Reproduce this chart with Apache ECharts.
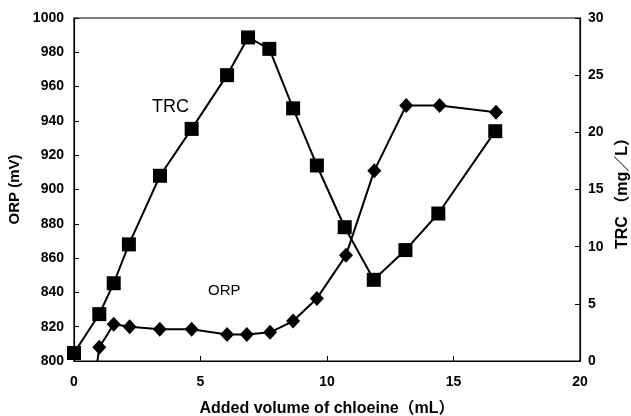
<!DOCTYPE html>
<html>
<head>
<meta charset="utf-8">
<script src="https://cdn.jsdelivr.net/npm/echarts@6/dist/echarts.min.js"></script>
<style>
html,body{margin:0;padding:0;background:#fff;}
#chart{width:631px;height:416px;}
</style>
</head>
<body>
<div id="chart"></div>
<script>
// Data
var trcX = [0, 1.0, 1.57, 2.17, 3.4, 4.65, 6.05, 6.88, 7.72, 8.66, 9.6, 10.7, 11.85, 13.1, 14.4, 16.65];
var trcValues = [0.7, 4.1, 6.8, 10.2, 16.2, 20.3, 25.0, 28.3, 27.3, 22.1, 17.1, 11.7, 7.1, 9.7, 12.9, 20.1];
var orpX = [0, 1.0, 1.57, 2.2, 3.39, 4.65, 6.05, 6.83, 7.75, 8.66, 9.6, 10.75, 11.87, 13.13, 14.45, 16.68];
var orpValues = [700, 808, 821.4, 820, 818.5, 818.5, 815.5, 815.5, 816.7, 823.3, 836.5, 861.6, 911, 949, 949, 945];
var xTicks = [0, 5, 10, 15, 20];
var orpTicks = [800, 820, 840, 860, 880, 900, 920, 940, 960, 980, 1000];
var trcTicks = [0, 5, 10, 15, 20, 25, 30];

var FONT = '"Liberation Sans", Arial, "Noto Sans CJK JP", sans-serif';

function pairs(xs, ys) {
  return xs.map(function (x, i) { return [x, ys[i]]; });
}

var chart = echarts.init(document.getElementById('chart'), null, {renderer: 'canvas'});
var axisLineStyle = {color: '#000', width: 1.2};
var lbl = {fontSize: 14, fontWeight: 'bold', color: '#000', fontFamily: FONT};
chart.setOption({
  animation: false,
  backgroundColor: '#fff',
  textStyle: {fontFamily: FONT, color: '#000'},
  grid: {left: 74, right: 51, top: 18, bottom: 55, show: true, borderColor: '#000', borderWidth: 1.2, backgroundColor: 'transparent', containLabel: false, outerBoundsMode: 'none'},
  xAxis: {
    type: 'value', min: xTicks[0], max: xTicks[xTicks.length - 1], interval: 5,
    name: 'Added volume of chloeine（mL）', nameLocation: 'middle', nameGap: 40,
    nameTextStyle: {fontSize: 16, fontWeight: 'bold', color: '#000', fontFamily: FONT},
    axisLine: {lineStyle: axisLineStyle},
    axisTick: {inside: true, length: 5, lineStyle: {color: '#000'}},
    axisLabel: Object.assign({margin: 14, formatter: function (v) { return String(v); }}, lbl),
    splitLine: {show: false}
  },
  yAxis: [{
    type: 'value', position: 'left', min: orpTicks[0], max: orpTicks[orpTicks.length - 1], interval: 20,
    name: 'ORP (mV)', nameLocation: 'middle', nameGap: 52, nameRotate: 90,
    nameTextStyle: {fontSize: 15, fontWeight: 'bold', color: '#000', fontFamily: FONT},
    axisLine: {show: true, lineStyle: axisLineStyle},
    axisTick: {show: true, inside: true, length: 5, lineStyle: {color: '#000'}},
    axisLabel: Object.assign({margin: 10, formatter: function (v) { return String(v); }}, lbl),
    splitLine: {show: false}
  }, {
    type: 'value', position: 'right', min: trcTicks[0], max: trcTicks[trcTicks.length - 1], interval: 5,
    name: 'TRC （mg／L）', nameLocation: 'middle', nameGap: 35, nameRotate: 90,
    nameTextStyle: {fontSize: 16, fontWeight: 'bold', color: '#000', fontFamily: FONT},
    axisLine: {show: true, lineStyle: axisLineStyle},
    axisTick: {show: true, inside: true, length: 5, lineStyle: {color: '#000'}},
    axisLabel: Object.assign({margin: 8, formatter: function (v) { return String(v); }}, lbl),
    splitLine: {show: false}
  }],
  series: [{
    name: 'TRC', type: 'line', yAxisIndex: 1,
    data: pairs(trcX, trcValues),
    symbol: 'rect', symbolSize: 14,
    lineStyle: {color: '#000', width: 2},
    itemStyle: {color: '#000'},
    clip: true, z: 3
  }, {
    name: 'ORP', type: 'line', yAxisIndex: 0,
    data: pairs(orpX, orpValues),
    symbol: 'diamond', symbolSize: [14, 15],
    lineStyle: {color: '#000', width: 2},
    itemStyle: {color: '#000'},
    clip: true, z: 2
  }],
  graphic: [{
    type: 'text', left: 152, top: 98,
    style: {text: 'TRC', font: '18px ' + FONT, fill: '#000'}
  }, {
    type: 'text', left: 208, top: 283,
    style: {text: 'ORP', font: '15px ' + FONT, fill: '#000'}
  }]
});
</script>
</body>
</html>
